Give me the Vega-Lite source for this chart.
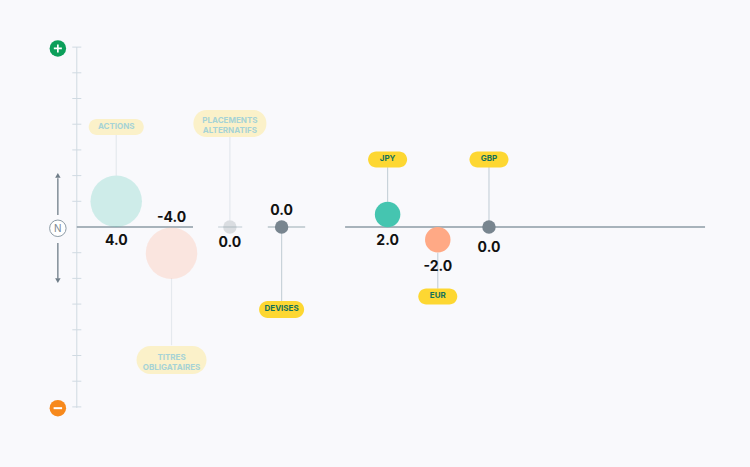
{
  "$schema": "https://vega.github.io/schema/vega-lite/v6.json",
  "width": 750,
  "height": 467,
  "autosize": "none",
  "padding": 0,
  "background": "#f9f9fc",
  "config": {
    "view": {"stroke": null},
    "font": "Inter",
    "locale": {"number": {"decimal": ".", "thousands": ",", "grouping": [3], "currency": ["$", ""], "minus": "-"}}
  },
  "datasets": {
    "cats": [
      {"name": "ACTIONS", "label": "ACTIONS", "lines": 1, "group": "classes", "x": 0.77, "value": 4, "cy": 1.0, "ly": -0.53, "py": 3.89, "c1": 2.0, "c2": 3.58},
      {"name": "TITRES", "label": "TITRES|OBLIGATAIRES", "lines": 2, "group": "classes", "x": 1.85, "value": -4, "cy": -1.02, "ly": 0.35, "py": -5.18, "c1": -2.0, "c2": -4.6},
      {"name": "PLACEMENTS", "label": "PLACEMENTS|ALTERNATIFS", "lines": 2, "group": "classes", "x": 2.99, "value": 0, "cy": 0, "ly": -0.62, "py": 4.03, "c1": 0.26, "c2": 3.5},
      {"name": "DEVISES", "label": "DEVISES", "lines": 1, "group": "devises", "x": 4.0, "value": 0, "cy": 0, "ly": 0.62, "py": -3.21, "c1": 0, "c2": -2.9},
      {"name": "JPY", "label": "JPY", "lines": 1, "group": "devises", "x": 6.07, "value": 2, "cy": 0.49, "ly": -0.56, "py": 2.63, "c1": 0.98, "c2": 2.33},
      {"name": "EUR", "label": "EUR", "lines": 1, "group": "devises", "x": 7.05, "value": -2, "cy": -0.5, "ly": -1.56, "py": -2.7, "c1": -1.0, "c2": -2.4},
      {"name": "GBP", "label": "GBP", "lines": 1, "group": "devises", "x": 8.05, "value": 0, "cy": 0, "ly": -0.82, "py": 2.63, "c1": 0, "c2": 2.33}
    ],
    "segs": [
      {"x": 0, "x2": 2.27, "y": 0, "tone": "dark"},
      {"x": 2.76, "x2": 3.23, "y": 0, "tone": "light"},
      {"x": 3.73, "x2": 4.46, "y": 0, "tone": "mid"},
      {"x": 5.24, "x2": 12.27, "y": 0, "tone": "dark"}
    ],
    "vaxis": [{"x": 0, "y": -7.04, "y2": 7.0}],
    "yticks": [
      {"x": 0, "y": -7}, {"x": 0, "y": -6}, {"x": 0, "y": -5}, {"x": 0, "y": -4}, {"x": 0, "y": -3}, {"x": 0, "y": -2}, {"x": 0, "y": -1},
      {"x": 0, "y": 1}, {"x": 0, "y": 2}, {"x": 0, "y": 3}, {"x": 0, "y": 4}, {"x": 0, "y": 5}, {"x": 0, "y": 6}, {"x": 0, "y": 7}
    ],
    "icons": [
      {"x": -0.37, "y": 6.95, "kind": "plus"},
      {"x": -0.37, "y": -7.05, "kind": "minus"},
      {"x": -0.37, "y": -0.05, "kind": "neutral"}
    ],
    "arrows": [
      {"x": -0.37, "y": 0.47, "y2": 1.9, "tip": 2.01, "dir": "up"},
      {"x": -0.37, "y": -0.62, "y2": -2.0, "tip": -2.09, "dir": "down"}
    ]
  },
  "data": {"name": "cats"},
  "encoding": {
    "x": {"field": "x", "type": "quantitative", "scale": {"domain": [-1.5, 13.148], "nice": false, "zero": false}, "axis": null}
  },
  "layer": [
    {
      "data": {"name": "vaxis"},
      "mark": {"type": "rule", "stroke": "#d0dae2", "strokeWidth": 1},
      "encoding": {
        "y": {"field": "y", "type": "quantitative", "scale": {"domain": [-9.339, 8.833], "nice": false, "zero": false}, "axis": null},
        "y2": {"field": "y2"}
      }
    },
    {
      "data": {"name": "yticks"},
      "mark": {"type": "tick", "orient": "horizontal", "size": 9, "thickness": 1, "color": "#d0dae2", "opacity": 1},
      "encoding": {
        "y": {"field": "y", "type": "quantitative", "scale": {"domain": [-9.339, 8.833], "nice": false, "zero": false}, "axis": null}
      }
    },
    {
      "data": {"name": "segs"},
      "mark": {"type": "rule", "strokeWidth": 1.5},
      "encoding": {
        "x2": {"field": "x2"},
        "y": {"field": "y", "type": "quantitative", "scale": {"domain": [-9.339, 8.833], "nice": false, "zero": false}, "axis": null},
        "color": {"field": "tone", "type": "nominal", "scale": {"domain": ["dark", "light", "mid"], "range": ["#8d9ba6", "#d2dae0", "#b9c4cb"]}, "legend": null}
      }
    },
    {
      "mark": {"type": "rule", "stroke": "#c9d3da", "strokeWidth": 1.2},
      "encoding": {
        "y": {"field": "c1", "type": "quantitative", "scale": {"domain": [-9.339, 8.833], "nice": false, "zero": false}, "axis": null},
        "y2": {"field": "c2"},
        "opacity": {"condition": {"test": "datum.group === 'classes'", "value": 0.4}, "value": 1}
      }
    },
    {
      "mark": {"type": "circle"},
      "encoding": {
        "y": {"field": "cy", "type": "quantitative", "scale": {"domain": [-9.339, 8.833], "nice": false, "zero": false}, "axis": null},
        "size": {"field": "value", "type": "quantitative", "scale": {"domain": [-4, -2, 0, 2, 4], "range": [2652, 650, 180, 650, 2652]}, "legend": null},
        "color": {"field": "value", "type": "quantitative", "scale": {"type": "threshold", "domain": [-0.05, 0.05], "range": ["#ffa985", "#78858f", "#45c5b0"]}, "legend": null},
        "opacity": {"condition": {"test": "datum.group === 'classes'", "value": 0.24}, "value": 1}
      }
    },
    {
      "transform": [{"filter": "indexof(['JPY','EUR','GBP'], datum.name) >= 0"}],
      "mark": {"type": "rect", "width": 39, "height": 16, "cornerRadius": 8},
      "encoding": {
        "y": {"field": "py", "type": "quantitative", "scale": {"domain": [-9.339, 8.833], "nice": false, "zero": false}, "axis": null},
        "fill": {"value": "#fdd732"}
      }
    },
    {
      "transform": [{"filter": "datum.name === 'DEVISES'"}],
      "mark": {"type": "rect", "width": 45, "height": 17, "cornerRadius": 8.5},
      "encoding": {
        "y": {"field": "py", "type": "quantitative", "scale": {"domain": [-9.339, 8.833], "nice": false, "zero": false}, "axis": null},
        "fill": {"value": "#fdd732"}
      }
    },
    {
      "transform": [{"filter": "datum.name === 'ACTIONS'"}],
      "mark": {"type": "rect", "width": 55, "height": 16, "cornerRadius": 8},
      "encoding": {
        "y": {"field": "py", "type": "quantitative", "scale": {"domain": [-9.339, 8.833], "nice": false, "zero": false}, "axis": null},
        "fill": {"value": "#fbf1c9"}
      }
    },
    {
      "transform": [{"filter": "datum.name === 'PLACEMENTS'"}],
      "mark": {"type": "rect", "width": 73, "height": 27, "cornerRadius": 13},
      "encoding": {
        "y": {"field": "py", "type": "quantitative", "scale": {"domain": [-9.339, 8.833], "nice": false, "zero": false}, "axis": null},
        "fill": {"value": "#fbf1c9"}
      }
    },
    {
      "transform": [{"filter": "datum.name === 'TITRES'"}],
      "mark": {"type": "rect", "width": 70, "height": 28, "cornerRadius": 14},
      "encoding": {
        "y": {"field": "py", "type": "quantitative", "scale": {"domain": [-9.339, 8.833], "nice": false, "zero": false}, "axis": null},
        "fill": {"value": "#fbf1c9"}
      }
    },
    {
      "transform": [{"filter": "datum.lines === 1"}],
      "mark": {"type": "text", "fontSize": 8, "fontWeight": "bold", "align": "center", "baseline": "middle"},
      "encoding": {
        "y": {"field": "py", "type": "quantitative", "scale": {"domain": [-9.339, 8.833], "nice": false, "zero": false}, "axis": null},
        "text": {"field": "label", "type": "nominal"},
        "color": {"condition": {"test": "datum.group === 'classes'", "value": "#a6d3d6"}, "value": "#13705a"}
      }
    },
    {
      "transform": [{"filter": "datum.lines === 2"}],
      "mark": {"type": "text", "fontSize": 8, "fontWeight": "bold", "lineBreak": "|", "lineHeight": 10, "align": "center", "baseline": "middle", "dy": -2.5},
      "encoding": {
        "y": {"field": "py", "type": "quantitative", "scale": {"domain": [-9.339, 8.833], "nice": false, "zero": false}, "axis": null},
        "text": {"field": "label", "type": "nominal"},
        "color": {"condition": {"test": "datum.group === 'classes'", "value": "#a6d3d6"}, "value": "#13705a"}
      }
    },
    {
      "mark": {"type": "text", "fontSize": 14, "fontWeight": "bold", "align": "center", "baseline": "middle", "color": "#111111"},
      "encoding": {
        "y": {"field": "ly", "type": "quantitative", "scale": {"domain": [-9.339, 8.833], "nice": false, "zero": false}, "axis": null},
        "text": {"field": "value", "type": "quantitative", "format": ".1f"}
      }
    },
    {
      "data": {"name": "icons"},
      "mark": {"type": "point", "filled": true, "size": 272, "strokeWidth": 1},
      "encoding": {
        "y": {"field": "y", "type": "quantitative", "scale": {"domain": [-9.339, 8.833], "nice": false, "zero": false}, "axis": null},
        "shape": {"value": "circle"},
        "fill": {"field": "kind", "type": "nominal", "scale": {"domain": ["plus", "minus", "neutral"], "range": ["#0c9f5a", "#f7891c", "#ffffff"]}, "legend": null},
        "stroke": {"condition": {"test": "datum.kind === 'neutral'", "value": "#8d9ba6"}, "value": null},
        "opacity": {"value": 1}
      }
    },
    {
      "data": {"name": "icons"},
      "transform": [{"filter": "datum.kind === 'plus'"}],
      "mark": {"type": "point", "filled": false, "shape": "M-1,0H1M0,-1V1", "size": 64, "stroke": "#ffffff", "strokeWidth": 1.7, "opacity": 1},
      "encoding": {
        "y": {"field": "y", "type": "quantitative", "scale": {"domain": [-9.339, 8.833], "nice": false, "zero": false}, "axis": null}
      }
    },
    {
      "data": {"name": "icons"},
      "transform": [{"filter": "datum.kind === 'minus'"}],
      "mark": {"type": "point", "filled": false, "shape": "M-1,0H1", "size": 72, "stroke": "#ffffff", "strokeWidth": 2, "opacity": 1},
      "encoding": {
        "y": {"field": "y", "type": "quantitative", "scale": {"domain": [-9.339, 8.833], "nice": false, "zero": false}, "axis": null}
      }
    },
    {
      "data": {"name": "icons"},
      "transform": [{"filter": "datum.kind === 'neutral'"}],
      "mark": {"type": "text", "text": "N", "fontSize": 10, "color": "#7b8894", "align": "center", "baseline": "middle", "dy": 0.5},
      "encoding": {
        "y": {"field": "y", "type": "quantitative", "scale": {"domain": [-9.339, 8.833], "nice": false, "zero": false}, "axis": null}
      }
    },
    {
      "data": {"name": "arrows"},
      "mark": {"type": "rule", "stroke": "#6f7d88", "strokeWidth": 1.3},
      "encoding": {
        "y": {"field": "y", "type": "quantitative", "scale": {"domain": [-9.339, 8.833], "nice": false, "zero": false}, "axis": null},
        "y2": {"field": "y2"}
      }
    },
    {
      "data": {"name": "arrows"},
      "mark": {"type": "point", "filled": true, "size": 30, "color": "#6f7d88", "opacity": 1},
      "encoding": {
        "y": {"field": "tip", "type": "quantitative", "scale": {"domain": [-9.339, 8.833], "nice": false, "zero": false}, "axis": null},
        "shape": {"field": "dir", "type": "nominal", "scale": {"domain": ["up", "down"], "range": ["triangle-up", "triangle-down"]}, "legend": null}
      }
    }
  ]
}
